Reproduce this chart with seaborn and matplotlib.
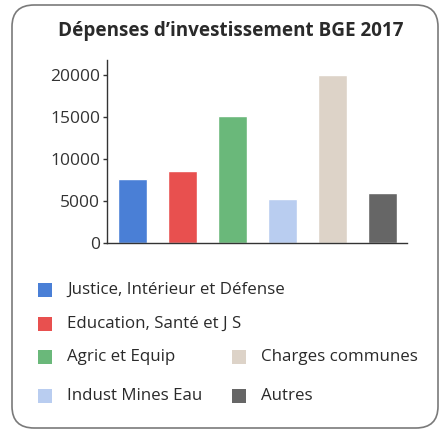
import matplotlib
matplotlib.use("Agg")
import matplotlib.pyplot as plt
import seaborn as sns
import pandas as pd
from matplotlib.patches import FancyBboxPatch, Rectangle

categories = ["Justice, Intérieur et Défense", "Education, Santé et J S", "Agric et Equip",
              "Indust Mines Eau", "Charges communes", "Autres"]
values = [7600, 8600, 15100, 5200, 20000, 5900]
colors = ["#4a7fd6", "#e8504f", "#6ab87a", "#b9cdf0", "#ddd3c8", "#666666"]
yticks = [0, 5000, 10000, 15000, 20000]
title = "Dépenses d\u2019investissement BGE 2017"

sns.set_theme(style="white")
plt.rcParams['font.family'] = ['Open Sans', 'DejaVu Sans']

W, H = 442, 433
fig = plt.figure(figsize=(W / 100, H / 100), dpi=100)
fig.patch.set_facecolor("white")

# rounded frame
frame = FancyBboxPatch((12 / W, 5 / H), 426 / W, 423 / H,
                       boxstyle="round,pad=0,rounding_size=0.05",
                       transform=fig.transFigure, fill=False,
                       edgecolor="#7a7a7a", linewidth=1.2)
fig.patches.append(frame)

fig.text(231 / W, 1 - 31 / H, title, ha="center", va="center",
         fontsize=13.6, fontweight="bold", color="#2a2a2a")

ax = fig.add_axes([107 / W, 1 - 243 / H, 300 / W, 183 / H])
df = pd.DataFrame({"cat": categories, "val": values})
sns.barplot(data=df, x="cat", y="val", hue="cat", palette=colors, legend=False,
            width=0.58, ax=ax, saturation=1)
ax.set_xlim(-0.5, 5.5)
ax.set_ylim(0, 21800)
ax.set_yticks(yticks)
ax.set_yticklabels([str(v) for v in yticks], fontsize=12.5, color="#333333")
ax.set_xticks([])
ax.set_xlabel("")
ax.set_ylabel("")
for s in ["top", "right"]:
    ax.spines[s].set_visible(False)
for s in ["left", "bottom"]:
    ax.spines[s].set_color("#333333")
    ax.spines[s].set_linewidth(1.0)
ax.tick_params(axis="y", left=True, length=3, width=1, color="#333333", pad=2)
ax.set_facecolor("none")

# legend (manual layout)
legend_pos = [(38, 290), (38, 324), (38, 357), (38, 396), (232, 357), (232, 396)]
for (x, y), lab, col in zip(legend_pos, categories, colors):
    fig.patches.append(Rectangle((x / W, 1 - (y + 7) / H), 14 / W, 14 / H,
                                 transform=fig.transFigure, facecolor=col,
                                 edgecolor="none"))
    fig.text((x + 29) / W, 1 - y / H, lab, ha="left", va="center",
             fontsize=12.2, color="#2a2a2a")

fig.savefig("out.png", dpi=100)
